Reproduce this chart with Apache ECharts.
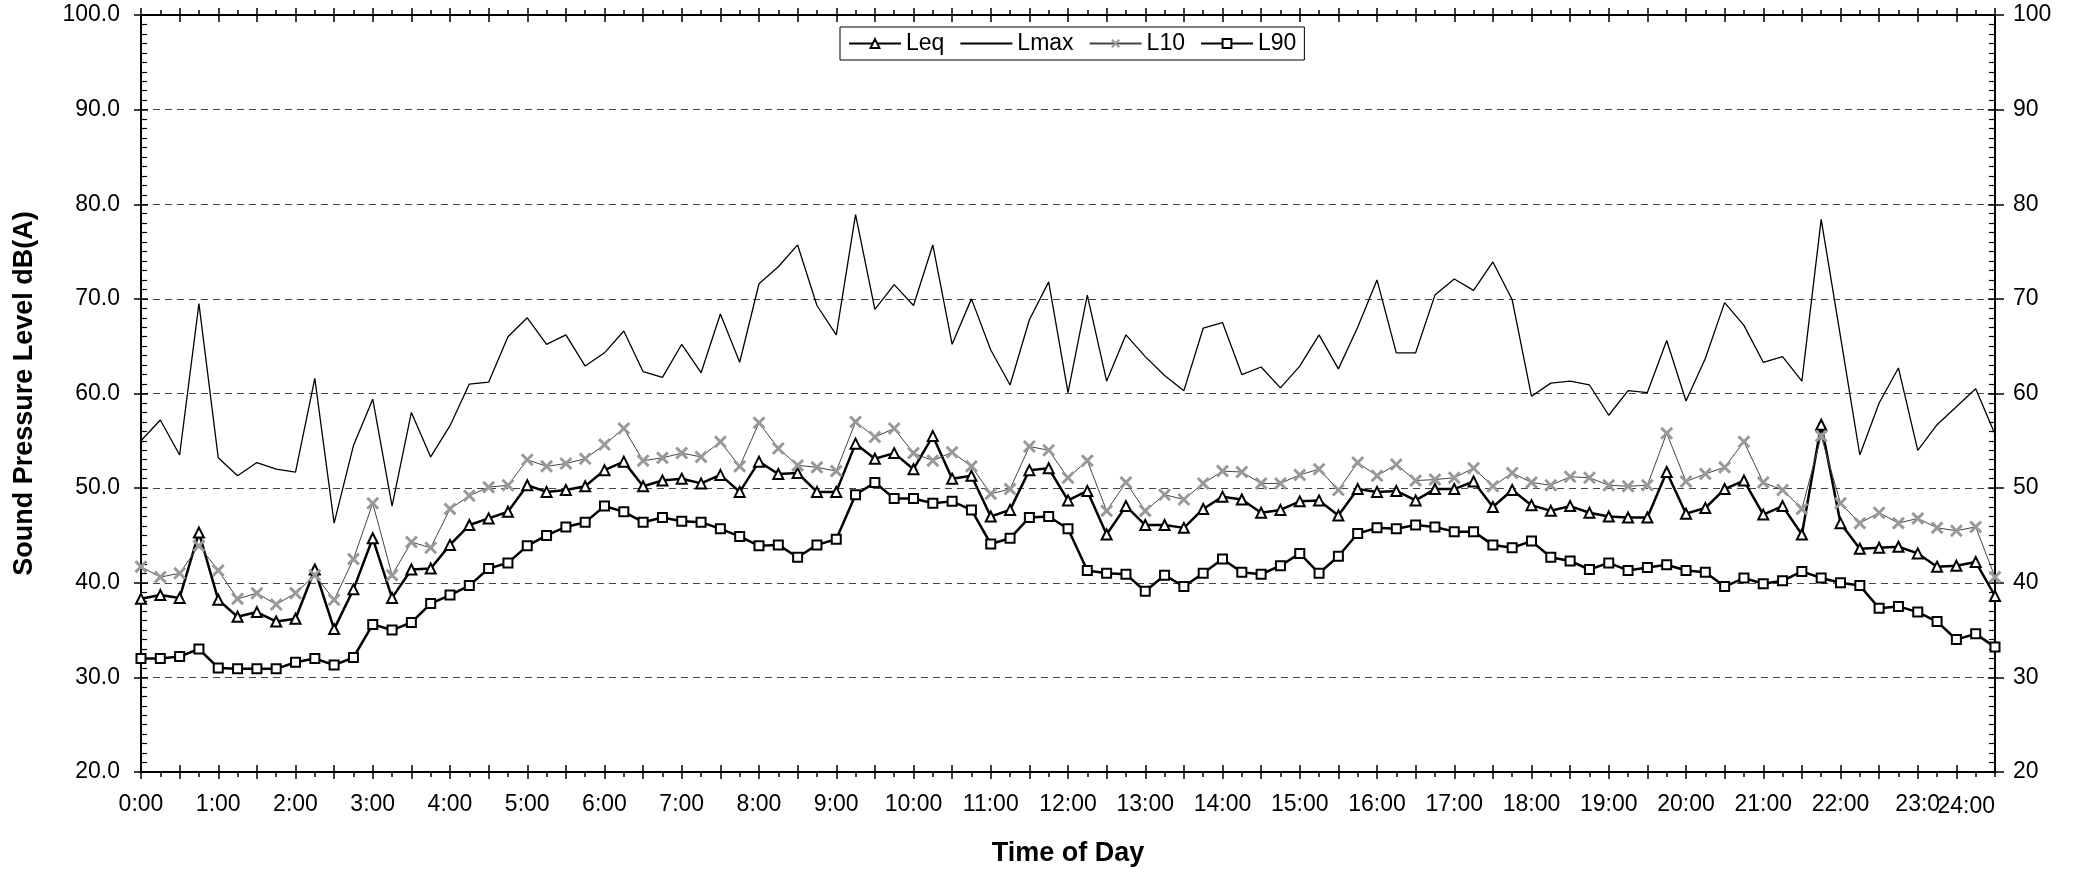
<!DOCTYPE html>
<html><head><meta charset="utf-8">
<script src="https://cdn.jsdelivr.net/npm/echarts@6/dist/echarts.min.js"></script>
<style>html,body{margin:0;padding:0;background:#fff}#c{width:2078px;height:872px}</style>
</head><body><div id="c"></div>
<script>
const times = [
 '0:00','0:15','0:30','0:45','1:00','1:15','1:30','1:45','2:00','2:15','2:30','2:45',
 '3:00','3:15','3:30','3:45','4:00','4:15','4:30','4:45','5:00','5:15','5:30','5:45',
 '6:00','6:15','6:30','6:45','7:00','7:15','7:30','7:45','8:00','8:15','8:30','8:45',
 '9:00','9:15','9:30','9:45','10:00','10:15','10:30','10:45','11:00','11:15','11:30','11:45',
 '12:00','12:15','12:30','12:45','13:00','13:15','13:30','13:45','14:00','14:15','14:30','14:45',
 '15:00','15:15','15:30','15:45','16:00','16:15','16:30','16:45','17:00','17:15','17:30','17:45',
 '18:00','18:15','18:30','18:45','19:00','19:15','19:30','19:45','20:00','20:15','20:30','20:45',
 '21:00','21:15','21:30','21:45','22:00','22:15','22:30','22:45','23:00','23:15','23:30','23:45','24:00'];
const hourLabels = ['0:00','1:00','2:00','3:00','4:00','5:00','6:00','7:00','8:00','9:00','10:00','11:00',
 '12:00','13:00','14:00','15:00','16:00','17:00','18:00','19:00','20:00','21:00','22:00','23:0','24:00'];
const leq = [
 38.3,38.7,38.4,45.3,38.2,36.4,36.9,35.9,36.2,41.4,35.1,39.3,
 44.7,38.4,41.4,41.5,44.0,46.1,46.8,47.5,50.3,49.6,49.8,50.2,
 51.9,52.8,50.2,50.8,51.0,50.5,51.4,49.6,52.8,51.5,51.6,49.6,
 49.6,54.7,53.1,53.7,52.0,55.5,51.0,51.3,47.0,47.7,51.9,52.1,
 48.7,49.7,45.1,48.1,46.1,46.1,45.8,47.8,49.1,48.8,47.4,47.7,
 48.6,48.7,47.1,49.9,49.6,49.7,48.7,49.9,49.9,50.7,48.0,49.8,
 48.2,47.6,48.1,47.4,47.0,46.9,46.9,51.7,47.3,47.9,49.9,50.8,
 47.2,48.1,45.1,56.7,46.3,43.6,43.7,43.8,43.1,41.7,41.8,42.2,38.6];
const lmax = [
 55.0,57.2,53.5,69.5,53.2,51.3,52.7,52.0,51.7,61.6,46.3,54.5,
 59.4,48.1,58.0,53.3,56.6,61.0,61.2,66.0,68.0,65.2,66.2,62.9,
 64.3,66.6,62.3,61.7,65.2,62.2,68.4,63.3,71.6,73.4,75.7,69.3,
 66.2,78.9,68.9,71.5,69.3,75.7,65.2,70.0,64.6,60.9,67.8,71.8,
 60.1,70.4,61.3,66.2,63.9,61.9,60.3,66.9,67.5,62.0,62.8,60.6,
 62.9,66.2,62.6,67.0,72.0,64.3,64.3,70.4,72.1,70.9,73.9,69.9,
 59.7,61.1,61.3,60.9,57.7,60.3,60.1,65.6,59.2,63.7,69.6,67.2,
 63.3,63.9,61.3,78.4,66.0,53.5,59.0,62.7,54.0,56.7,58.6,60.5,55.7];
const l10 = [
 41.7,40.6,41.0,43.9,41.3,38.3,38.9,37.7,38.9,40.8,38.2,42.5,
 48.4,40.8,44.3,43.7,47.8,49.2,50.1,50.3,53.0,52.3,52.6,53.1,
 54.6,56.3,52.9,53.2,53.7,53.3,54.9,52.3,56.9,54.2,52.4,52.2,
 51.8,57.0,55.4,56.3,53.7,52.9,53.8,52.3,49.4,49.9,54.4,54.0,
 51.1,52.9,47.6,50.6,47.6,49.3,48.8,50.5,51.8,51.7,50.5,50.5,
 51.4,52.0,49.8,52.7,51.3,52.5,50.8,50.9,51.1,52.1,50.2,51.6,
 50.6,50.3,51.2,51.1,50.3,50.2,50.3,55.8,50.7,51.5,52.2,54.9,
 50.6,49.8,47.8,55.5,48.4,46.3,47.4,46.3,46.8,45.8,45.5,45.9,40.6];
const l90 = [
 32.0,32.0,32.2,33.0,31.0,30.9,30.9,30.9,31.6,32.0,31.3,32.1,
 35.6,35.0,35.8,37.8,38.7,39.7,41.5,42.1,43.9,45.0,45.9,46.4,
 48.1,47.5,46.4,46.9,46.5,46.4,45.7,44.9,43.9,44.0,42.7,44.0,
 44.6,49.3,50.6,48.9,48.9,48.4,48.6,47.7,44.1,44.7,46.9,47.0,
 45.7,41.3,41.0,40.9,39.1,40.8,39.6,41.0,42.5,41.1,40.9,41.8,
 43.1,41.0,42.8,45.2,45.8,45.7,46.1,45.9,45.4,45.4,44.0,43.7,
 44.4,42.7,42.3,41.4,42.1,41.3,41.6,41.9,41.3,41.1,39.6,40.5,
 39.9,40.2,41.2,40.5,40.0,39.7,37.3,37.5,36.9,35.9,34.0,34.6,33.2];

const FONT = '"Liberation Sans", Arial, sans-serif';
const BLK = '#000';
const LAST = times.length - 1;
function xDeco(position, inside, interval, length) {
  return {type:'category', data:times, boundaryGap:false, position:position,
    axisLine:{show:false}, axisLabel:{show:false}, splitLine:{show:false},
    axisTick:{show:true, inside:inside, interval:interval, length:length, lineStyle:{color:BLK, width:1.5}}};
}
function yDeco(position, inside, length) {
  return {type:'value', min:20, max:100, interval:10, position:position,
    axisLine:{show:false}, axisLabel:{show:false}, splitLine:{show:false},
    axisTick:{show:true, inside:inside, length:length, lineStyle:{color:BLK, width:1.5}}};
}
const chart = echarts.init(document.getElementById('c'), null, {renderer:'canvas'});
chart.setOption({
  animation:false,
  backgroundColor:'#fff',
  textStyle:{fontFamily:FONT},
  grid:{left:141, right:83, top:15, bottom:96, containLabel:false},
  legend:{
    left:840, top:27, orient:'horizontal',
    data:['Leq', {name:'Lmax', itemStyle:{opacity:0, color:'rgba(0,0,0,0)', borderWidth:0}}, 'L10', 'L90'],
    backgroundColor:'#fff', borderColor:'#000', borderWidth:1,
    padding:[5,8,5,8], itemGap:15, itemWidth:52, itemHeight:11,
    textStyle:{fontSize:23, color:BLK, fontFamily:FONT}
  },
  xAxis:[
    {type:'category', data:times, boundaryGap:false, position:'bottom',
     name:'Time of Day', nameLocation:'middle', nameGap:68,
     nameTextStyle:{fontSize:27, fontWeight:'bold', color:BLK, fontFamily:FONT},
     axisLine:{show:true, onZero:false, lineStyle:{color:BLK, width:2}},
     axisTick:{show:true, interval:1, length:7, lineStyle:{color:BLK, width:1.5}},
     splitLine:{show:false},
     axisLabel:{interval:3, margin:21, fontSize:23, color:BLK, fontFamily:FONT,
       showMinLabel:true, showMaxLabel:false,
       formatter:function(v,i){ return (i%4===0 && i!==LAST) ? hourLabels[i/4] : ''; }}},
    {type:'category', data:times, boundaryGap:false, position:'bottom',
     axisLine:{show:false}, axisTick:{show:false}, splitLine:{show:false},
     axisLabel:{interval:3, margin:21, fontSize:23, color:BLK, fontFamily:FONT,
       showMinLabel:false, showMaxLabel:true, alignMaxLabel:'right',
       formatter:function(v,i){ return i===LAST ? '{d|'+hourLabels[hourLabels.length-1]+'}' : ''; },
       rich:{d:{fontSize:23, color:BLK, fontFamily:FONT, padding:[2,0,0,0]}}}},
    xDeco('bottom', false, 0, 5),
    xDeco('bottom', true, 1, 7),
    {type:'category', data:times, boundaryGap:false, position:'top',
     axisLine:{show:true, onZero:false, lineStyle:{color:BLK, width:2}}, axisLabel:{show:false}, splitLine:{show:false},
     axisTick:{show:true, interval:1, length:7, lineStyle:{color:BLK, width:1.5}}},
    xDeco('top', false, 0, 5),
    xDeco('top', true, 1, 7)
  ],
  yAxis:[
    {type:'value', min:20, max:100, interval:10, position:'left',
     name:'Sound Pressure Level dB(A)', nameLocation:'middle', nameGap:103,
     nameTextStyle:{fontSize:27, fontWeight:'bold', color:BLK, fontFamily:FONT},
     axisLine:{show:true, onZero:false, lineStyle:{color:BLK, width:2}},
     axisTick:{show:true, inside:true, length:7, lineStyle:{color:BLK, width:1.5}},
     minorTick:{show:true, splitNumber:10, length:6, lineStyle:{color:BLK, width:1.2}},
     axisLabel:{margin:21, fontSize:23, color:BLK, fontFamily:FONT, formatter:function(v){return v.toFixed(1);}},
     splitLine:{show:true, lineStyle:{color:'#444', width:1, type:[7,5]}}},
    {type:'value', min:20, max:100, interval:10, position:'right',
     axisLine:{show:true, onZero:false, lineStyle:{color:BLK, width:2}},
     axisTick:{show:true, inside:true, length:7, lineStyle:{color:BLK, width:1.5}},
     minorTick:{show:true, splitNumber:10, length:6, lineStyle:{color:BLK, width:1.2}},
     axisLabel:{margin:18, fontSize:23, color:BLK, fontFamily:FONT},
     splitLine:{show:false}},
    yDeco('left', false, 7),
    yDeco('right', false, 9)
  ],
  series:[
    {name:'Leq', type:'line', data:leq, xAxisIndex:0, yAxisIndex:0,
     symbol:'triangle', symbolSize:10, showAllSymbol:true, z:3,
     lineStyle:{color:BLK, width:2.5},
     itemStyle:{color:'#fff', borderColor:BLK, borderWidth:2}},
    {name:'Lmax', type:'line', data:lmax, xAxisIndex:0, yAxisIndex:0,
     symbol:'none', z:4,
     lineStyle:{color:BLK, width:1.3},
     itemStyle:{color:BLK}},
    {name:'L10', type:'line', data:l10, xAxisIndex:0, yAxisIndex:0,
     symbol:'path://M0,1.6L1.6,0L5,3.4L8.4,0L10,1.6L6.6,5L10,8.4L8.4,10L5,6.6L1.6,10L0,8.4L3.4,5Z',
     symbolSize:13, showAllSymbol:true, z:5,
     lineStyle:{color:'#444', width:1},
     itemStyle:{color:'#999'}},
    {name:'L90', type:'line', data:l90, xAxisIndex:0, yAxisIndex:0,
     symbol:'rect', symbolSize:9, showAllSymbol:true, z:6,
     lineStyle:{color:BLK, width:2.5},
     itemStyle:{color:'#fff', borderColor:BLK, borderWidth:2}}
  ]
});
</script></body></html>
